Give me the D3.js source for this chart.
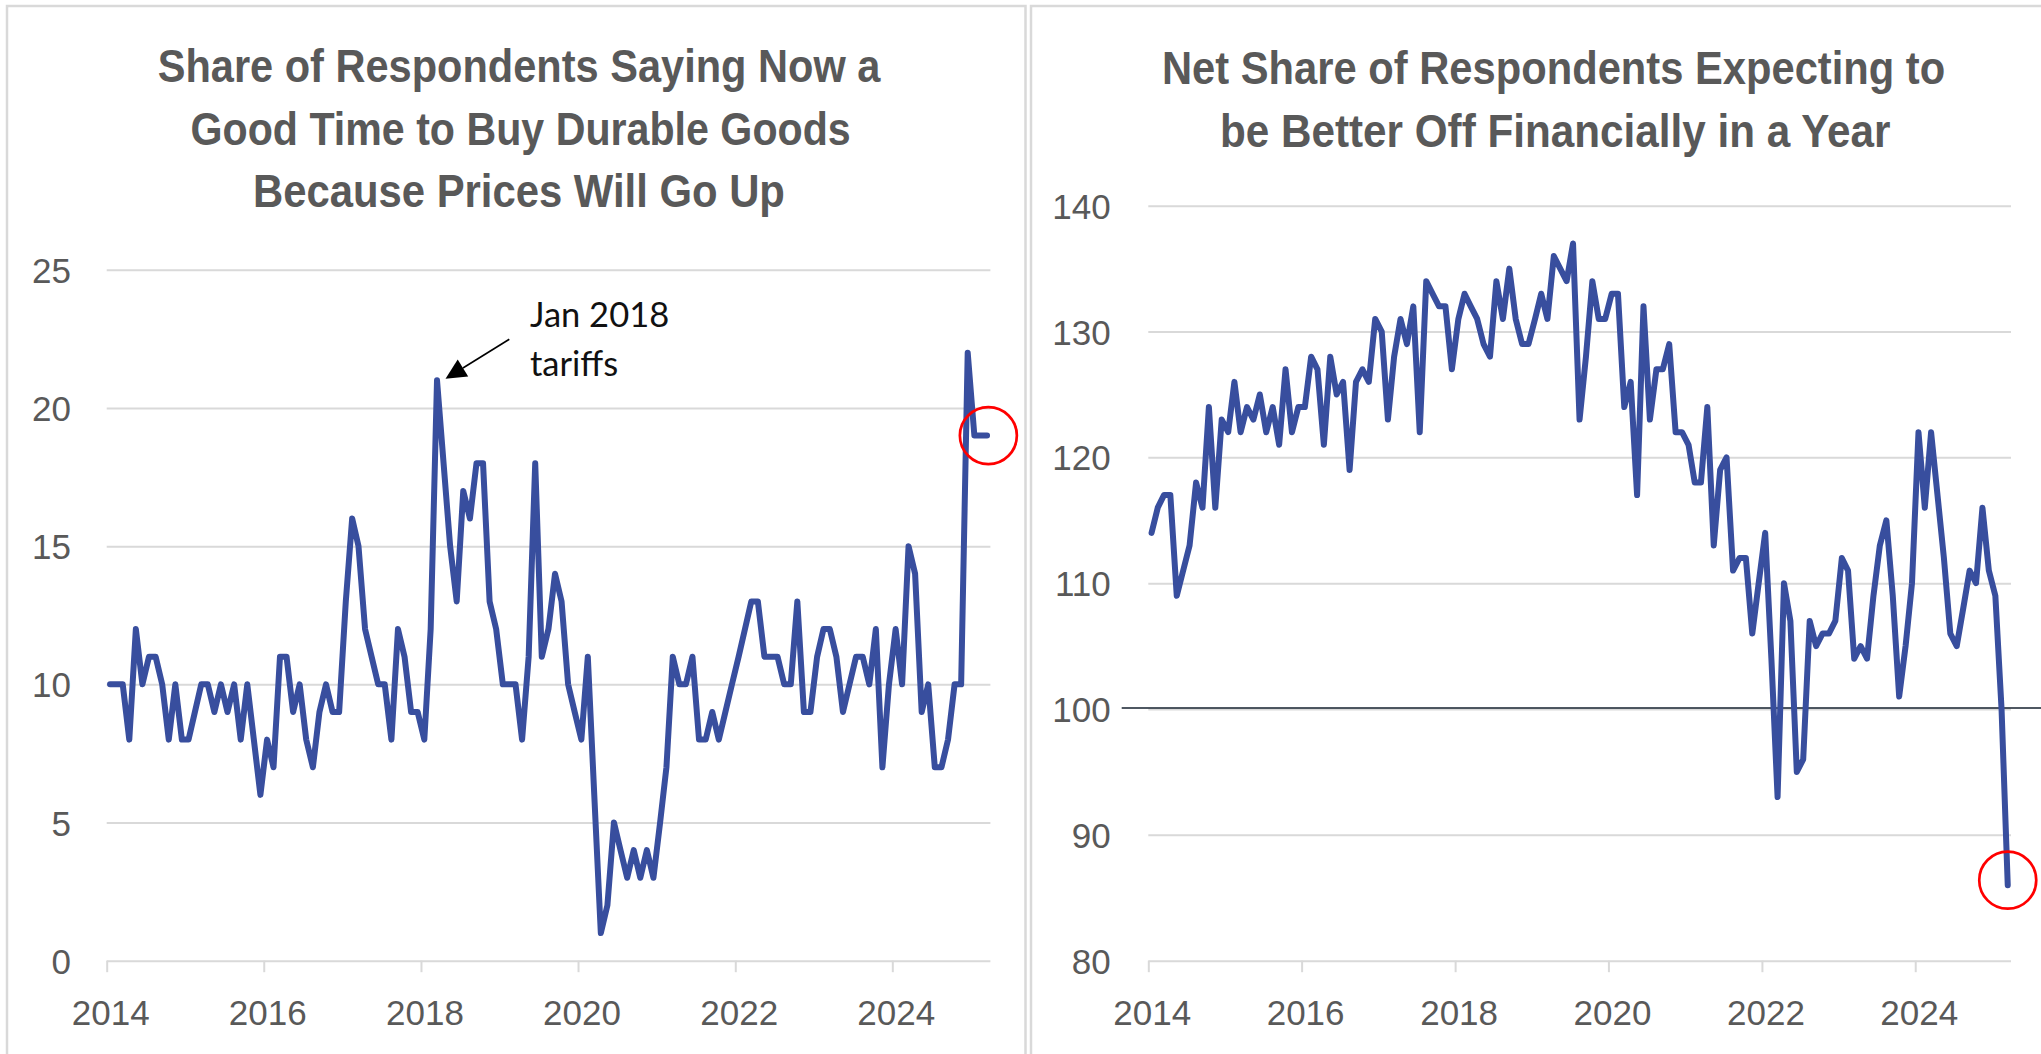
<!DOCTYPE html>
<html>
<head>
<meta charset="utf-8">
<script src="https://cdn.jsdelivr.net/npm/d3@7"></script>
<style>
  html, body { margin: 0; padding: 0; background: #ffffff; }
  svg { display: block; }
</style>
</head>
<body>
<svg id="chart" width="2041" height="1054"></svg>
<script>
// Monthly survey readings, Jan 2014 through Mar 2025
const goodTimePricesUp = [
  10, 10, 10, 8, 12, 10, 11, 11, 10, 8, 10, 8,      // 2014
  8, 9, 10, 10, 9, 10, 9, 10, 8, 10, 8, 6,          // 2015
  8, 7, 11, 11, 9, 10, 8, 7, 9, 10, 9, 9,           // 2016
  13, 16, 15, 12, 11, 10, 10, 8, 12, 11, 9, 9,      // 2017
  8, 12, 21, 18, 15, 13, 17, 16, 18, 18, 13, 12,    // 2018
  10, 10, 10, 8, 11, 18, 11, 12, 14, 13, 10, 9,     // 2019
  8, 11, 6, 1, 2, 5, 4, 3, 4, 3, 4, 3,              // 2020
  5, 7, 11, 10, 10, 11, 8, 8, 9, 8, 9, 10,          // 2021
  11, 12, 13, 13, 11, 11, 11, 10, 10, 13, 9, 9,     // 2022
  11, 12, 12, 11, 9, 10, 11, 11, 10, 12, 7, 10,     // 2023
  12, 10, 15, 14, 9, 10, 7, 7, 8, 10, 10, 22,       // 2024
  19, 19, 19                                        // 2025
];

const expectBetterOff = [
  114, 116, 117, 117, 109, 111, 113, 118, 116, 124, 116, 123,   // 2014
  122, 126, 122, 124, 123, 125, 122, 124, 121, 127, 122, 124,   // 2015
  124, 128, 127, 121, 128, 125, 126, 119, 126, 127, 126, 131,   // 2016
  130, 123, 128, 131, 129, 132, 122, 134, 133, 132, 132, 127,   // 2017
  131, 133, 132, 131, 129, 128, 134, 131, 135, 131, 129, 129,   // 2018
  131, 133, 131, 136, 135, 134, 137, 123, 128, 134, 131, 131,   // 2019
  133, 133, 124, 126, 117, 132, 123, 127, 127, 129, 122, 122,   // 2020
  121, 118, 118, 124, 113, 119, 120, 111, 112, 112, 106, 110,   // 2021
  114, 104, 93, 110, 107, 95, 96, 107, 105, 106, 106, 107,      // 2022
  112, 111, 104, 105, 104, 109, 113, 115, 109, 101, 105, 110,   // 2023
  122, 116, 122, 117, 112, 106, 105, 108, 111, 110, 116, 111,   // 2024
  109, 100, 86                                                  // 2025
];

const yearTicks = [2014, 2016, 2018, 2020, 2022, 2024];
const leftValueTicks = [0, 5, 10, 15, 20, 25];
const rightValueTicks = [80, 90, 100, 110, 120, 130, 140];
const leftTitleLines = [
  "Share of Respondents Saying Now a",
  "Good Time to Buy Durable Goods",
  "Because Prices Will Go Up"
];
const rightTitleLines = [
  "Net Share of Respondents Expecting to",
  "be Better Off Financially in a Year"
];
const annotationLines = ["Jan 2018", "tariffs"];
const referenceLevel = 100;

// Mid-point of each month, so points sit centred in their month slot
const months = d3.range(goodTimePricesUp.length).map(i => {
  const a = new Date(2014, i, 1), b = new Date(2014, i + 1, 1);
  return new Date((+a + +b) / 2);
});
const axisStart = new Date(2014, 0, 1);
const axisEnd = new Date(2014, goodTimePricesUp.length, 1);

const svg = d3.select("#chart");
const LINE_COLOR = "#384e9e";
const GRID = "#d9d9d9";
const TEXT_GRAY = "#595959";
const AXIS_FONT = "'Liberation Sans', Arial, sans-serif";
const TITLE_FONT = "'Liberation Sans Narrow', 'Liberation Sans', Arial, sans-serif";

// Panel frames
svg.append("rect").attr("x", 7).attr("y", 6).attr("width", 1018.5).attr("height", 1100)
  .attr("fill", "none").attr("stroke", GRID).attr("stroke-width", 2.5);
svg.append("rect").attr("x", 1031).attr("y", 6).attr("width", 1100).attr("height", 1100)
  .attr("fill", "none").attr("stroke", GRID).attr("stroke-width", 2.5);

// Titles use a horizontally condensed bold face: each line is scaled to its width
function drawTitle(lines, layout) {
  lines.forEach((t, k) => {
    const L = layout[k];
    const txt = svg.append("text")
      .attr("x", 0).attr("y", 0)
      .attr("font-family", TITLE_FONT).attr("font-weight", "bold")
      .attr("font-size", 47).attr("fill", TEXT_GRAY)
      .text(t);
    const natural = txt.node().getComputedTextLength();
    txt.attr("transform", `translate(${L.x},${L.y}) scale(${L.w / natural},1)`);
  });
}

function drawPanel(cfg) {
  const g = svg.append("g");
  const x = d3.scaleTime().domain([axisStart, axisEnd]).range([cfg.x0, cfg.x1]);
  const y = d3.scaleLinear().domain(cfg.yDomain).range([cfg.yBottom, cfg.yTop]);

  // value axis with full-width gridlines
  const ya = g.append("g")
    .attr("transform", `translate(${cfg.x0},0)`)
    .call(d3.axisLeft(y).tickValues(cfg.yTicks).tickSize(-(cfg.x1 - cfg.x0))
      .tickPadding(cfg.yPad).tickFormat(d3.format("d")));
  ya.attr("font-family", AXIS_FONT).attr("font-size", 35);
  ya.select(".domain").remove();
  ya.selectAll(".tick line").attr("stroke", GRID).attr("stroke-width", 2);
  ya.selectAll(".tick text").attr("fill", TEXT_GRAY).attr("dy", 12.5);

  // date axis
  const xa = g.append("g")
    .attr("transform", `translate(0,${cfg.yBottom})`)
    .call(d3.axisBottom(x).tickValues(yearTicks.map(yr => new Date(yr, 0, 1)))
      .tickSize(11.5).tickFormat(d3.timeFormat("%Y")));
  xa.attr("font-family", AXIS_FONT).attr("font-size", 35);
  xa.select(".domain").remove();
  xa.selectAll(".tick line").attr("stroke", GRID).attr("stroke-width", 2);
  xa.selectAll(".tick text").attr("fill", TEXT_GRAY)
    .attr("y", 1025 - cfg.yBottom).attr("dy", null).attr("dx", 3.5);

  if (cfg.refLine != null) {
    g.append("line")
      .attr("x1", cfg.refX0).attr("x2", 2041)
      .attr("y1", y(cfg.refLine) - 1).attr("y2", y(cfg.refLine) - 1)
      .attr("stroke", "#14212e").attr("stroke-width", 1.4);
  }

  const line = d3.line().x((d, i) => x(months[i])).y(d => y(d));
  g.append("path").datum(cfg.values)
    .attr("d", line)
    .attr("fill", "none")
    .attr("stroke", LINE_COLOR)
    .attr("stroke-width", 6)
    .attr("stroke-linejoin", "round")
    .attr("stroke-linecap", "round");

  // highlight the latest reading
  const last = cfg.values.length - 1;
  g.append("circle")
    .attr("cx", x(months[last]) + cfg.ringDx)
    .attr("cy", y(cfg.values[last]) + cfg.ringDy)
    .attr("r", 28.5)
    .attr("fill", "none")
    .attr("stroke", "#ff0000")
    .attr("stroke-width", 2.7);

  return { g, x, y };
}

// Left panel
drawTitle(leftTitleLines, [
  { x: 157.7, y: 81.7, w: 722.7 },
  { x: 190.5, y: 145, w: 660.4 },
  { x: 253, y: 206.7, w: 532 }
]);
const left = drawPanel({
  values: goodTimePricesUp,
  x0: 106.7, x1: 990.4,
  yDomain: [0, 25], yBottom: 960.7, yTop: 269.8,
  yTicks: leftValueTicks, yPad: 35.7,
  ringDx: 1.3, ringDy: 0
});

// Annotation arrow to the 2018 peak
const peakIdx = d3.maxIndex(goodTimePricesUp.slice(0, 72));
const tip = [left.x(months[peakIdx]) + 8.5, left.y(goodTimePricesUp[peakIdx]) - 1.6];
const tail = [509.3, 339.3];
const len = Math.hypot(tip[0] - tail[0], tip[1] - tail[1]);
const ux = (tip[0] - tail[0]) / len, uy = (tip[1] - tail[1]) / len;
const headLen = 20.5, headHalf = 10;
const base = [tip[0] - headLen * ux, tip[1] - headLen * uy];
svg.append("line")
  .attr("x1", tail[0]).attr("y1", tail[1])
  .attr("x2", base[0]).attr("y2", base[1])
  .attr("stroke", "#000").attr("stroke-width", 1.6);
svg.append("path")
  .attr("d", d3.line()([
    tip,
    [base[0] - headHalf * uy, base[1] + headHalf * ux],
    [base[0] + headHalf * uy, base[1] - headHalf * ux]
  ]) + "Z")
  .attr("fill", "#000");
annotationLines.forEach((t, k) => {
  svg.append("text")
    .attr("x", 530).attr("y", 327 + k * 48.5)
    .attr("font-family", "Lato, 'Open Sans', sans-serif")
    .attr("font-size", 34.5).attr("fill", "#111")
    .text(t);
});

// Right panel
drawTitle(rightTitleLines, [
  { x: 1162, y: 83.5, w: 783.5 },
  { x: 1220, y: 146.5, w: 670.5 }
]);
drawPanel({
  values: expectBetterOff,
  x0: 1148.3, x1: 2011,
  yDomain: [80, 140], yBottom: 960.7, yTop: 205.7,
  yTicks: rightValueTicks, yPad: 37.6,
  refLine: referenceLevel, refX0: 1121.7,
  ringDx: 0, ringDy: -5
});
</script>
</body>
</html>
